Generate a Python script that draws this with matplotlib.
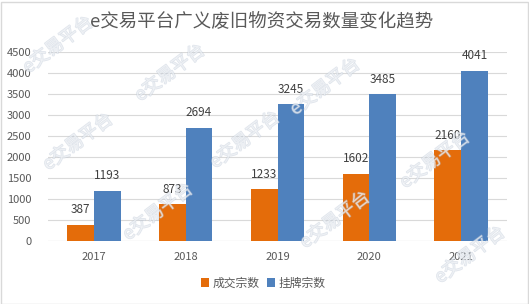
#!/usr/bin/env python3
import numpy as np
import matplotlib
matplotlib.use('Agg')
import matplotlib.pyplot as plt
import matplotlib.patheffects as pe
from matplotlib.patches import Rectangle

plt.rcParams['font.family'] = ['Noto Sans CJK SC', 'DejaVu Sans']

years = ['2017', '2018', '2019', '2020', '2021']
deals = [387, 873, 1233, 1602, 2160]       # 成交宗数
listings = [1193, 2694, 3245, 3485, 4041]  # 挂牌宗数
series_names = ['成交宗数', '挂牌宗数']
title = 'e交易平台广义废旧物资交易数量变化趋势'
watermark = 'e交易平台'

c_orange = '#E46C0A'
c_blue = '#4F81BD'
txt = '#595959'

W, H = 529, 304
fig = plt.figure(figsize=(W / 100, H / 100), dpi=100)
ax = fig.add_axes([48 / W, 1 - 241 / H, 459 / W, 189.5 / H])

x = np.arange(len(years))
w = 0.29
b1 = ax.bar(x - w / 2, deals, w, color=c_orange, label=series_names[0], zorder=3)
b2 = ax.bar(x + w / 2, listings, w, color=c_blue, label=series_names[1], zorder=3)
for bars in (b1, b2):
    ax.bar_label(bars, padding=6, fontsize=8.5, color='#404040')

ax.set_xlim(-0.5, len(years) - 0.5)
ax.set_ylim(0, 4500)
ax.set_yticks(np.arange(0, 4501, 500))
ax.set_xticks(x)
ax.set_xticklabels(years)
ax.tick_params(length=0, labelsize=8, colors=txt)
ax.tick_params(axis='y', pad=12)
ax.tick_params(axis='x', pad=8)
ax.grid(axis='y', color='#d9d9d9', linewidth=0.8, zorder=0)
for s in ax.spines.values():
    s.set_visible(False)
ax.axhline(0, color='#d9d9d9', linewidth=0.8, zorder=1)

fig.text(262 / W, 1 - 22 / H, title, ha='center', va='center', fontsize=13.3, color=txt)

fig.legend(handles=[b1, b2], loc='center', bbox_to_anchor=(263 / W, 1 - 283 / H), ncol=2,
           frameon=False, fontsize=8.5, labelcolor=txt, handlelength=0.7, handleheight=0.7,
           handletextpad=0.3, columnspacing=0.6)

# watermark centers (pixels)
marks = [(58, 45), (170, 73), (78, 142), (325, 87), (245, 140), (158, 212),
         (335, 220), (435, 160), (470, 255)]
for cx, cy in marks:
    fig.text(cx / W, 1 - cy / H, watermark, ha='center', va='center', rotation=37,
             fontsize=13, color='white', alpha=0.45, zorder=10,
             path_effects=[pe.withStroke(linewidth=1.0, foreground='#b8c4d4')])

fig.patches.append(Rectangle((0.5 / W, 0.5 / H), 1 - 2 / W, 1 - 2 / H, transform=fig.transFigure,
                             fill=False, edgecolor='#d9d9d9', linewidth=1))

fig.savefig('out.png', dpi=100)
